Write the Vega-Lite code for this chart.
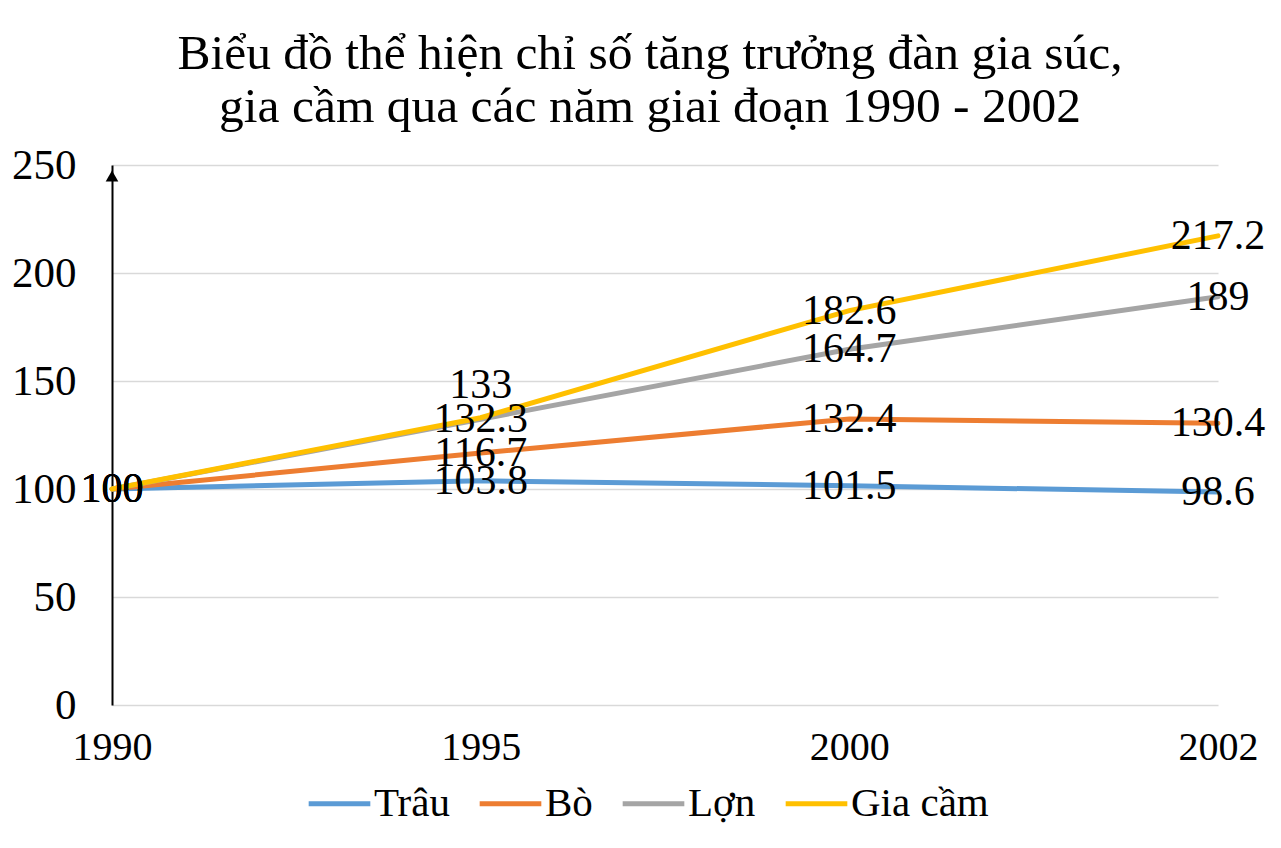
{
  "$schema": "https://vega.github.io/schema/vega-lite/v6.json",
  "autosize": "none",
  "width": 1106,
  "height": 540,
  "padding": {"left": 112, "top": 165, "right": 63, "bottom": 143},
  "background": "white",
  "config": {
    "view": {"stroke": null},
    "font": "Liberation Serif"
  },
  "title": {
    "text": ["Biểu đồ thể hiện chỉ số tăng trưởng đàn gia súc,", "gia cầm qua các năm giai đoạn 1990 - 2002"],
    "font": "Liberation Serif",
    "fontSize": 49.5,
    "fontWeight": "normal",
    "color": "black",
    "lineHeight": 53,
    "anchor": "middle",
    "dx": -15,
    "offset": 12
  },
  "data": {
    "values": [
      {"year": "1990", "series": "Trâu", "value": 100},
      {"year": "1995", "series": "Trâu", "value": 103.8},
      {"year": "2000", "series": "Trâu", "value": 101.5},
      {"year": "2002", "series": "Trâu", "value": 98.6},
      {"year": "1990", "series": "Bò", "value": 100},
      {"year": "1995", "series": "Bò", "value": 116.7},
      {"year": "2000", "series": "Bò", "value": 132.4},
      {"year": "2002", "series": "Bò", "value": 130.4},
      {"year": "1990", "series": "Lợn", "value": 100},
      {"year": "1995", "series": "Lợn", "value": 132.3},
      {"year": "2000", "series": "Lợn", "value": 164.7},
      {"year": "2002", "series": "Lợn", "value": 189},
      {"year": "1990", "series": "Gia cầm", "value": 100},
      {"year": "1995", "series": "Gia cầm", "value": 133},
      {"year": "2000", "series": "Gia cầm", "value": 182.6},
      {"year": "2002", "series": "Gia cầm", "value": 217.2}
    ]
  },
  "encoding": {
    "x": {
      "field": "year",
      "type": "ordinal",
      "scale": {"type": "point", "padding": 0},
      "axis": {
        "title": null,
        "labelAngle": 0,
        "labelFont": "Liberation Serif",
        "labelFontSize": 40,
        "labelColor": "black",
        "labelPadding": 22,
        "ticks": false,
        "domain": false,
        "grid": false
      }
    },
    "y": {
      "field": "value",
      "type": "quantitative",
      "scale": {"domain": [0, 250], "nice": false},
      "axis": {
        "title": null,
        "values": [0, 50, 100, 150, 200, 250],
        "labelFont": "Liberation Serif",
        "labelFontSize": 43,
        "labelColor": "black",
        "labelPadding": 36,
        "ticks": false,
        "domain": true,
        "domainColor": "black",
        "domainWidth": 2,
        "grid": true,
        "gridColor": "#D9D9D9",
        "gridWidth": 1.5
      }
    }
  },
  "layer": [
    {
      "mark": {"type": "line", "strokeWidth": 5, "strokeCap": "round"},
      "encoding": {
        "color": {
          "field": "series",
          "type": "nominal",
          "scale": {
            "domain": ["Trâu", "Bò", "Lợn", "Gia cầm"],
            "range": ["#5B9BD5", "#ED7D31", "#A5A5A5", "#FFC000"]
          },
          "legend": {
            "title": null,
            "orient": "none",
            "direction": "horizontal",
            "legendX": 194,
            "legendY": 605,
            "symbolType": "stroke",
            "symbolStrokeWidth": 5,
            "symbolSize": 3800,
            "labelFont": "Liberation Serif",
            "labelFontSize": 41,
            "labelColor": "black",
            "labelOffset": 1,
            "columnPadding": 19
          }
        },
        "order": {"field": "year"}
      }
    },
    {
      "transform": [{"filter": "datum.value != 133"}],
      "mark": {"type": "text", "fontSize": 42, "font": "Liberation Serif", "color": "black", "baseline": "middle", "align": "center"},
      "encoding": {"text": {"field": "value", "type": "quantitative"}}
    },
    {
      "transform": [{"filter": "datum.value == 133"}],
      "mark": {"type": "text", "fontSize": 42, "font": "Liberation Serif", "color": "black", "baseline": "middle", "align": "center", "dy": -33},
      "encoding": {"text": {"field": "value", "type": "quantitative"}}
    },
    {
      "data": {"values": [{"year": "1990", "value": 250}]},
      "mark": {"type": "point", "shape": "triangle-up", "filled": true, "color": "black", "size": 160, "opacity": 1, "yOffset": 11},
      "encoding": {}
    }
  ]
}
